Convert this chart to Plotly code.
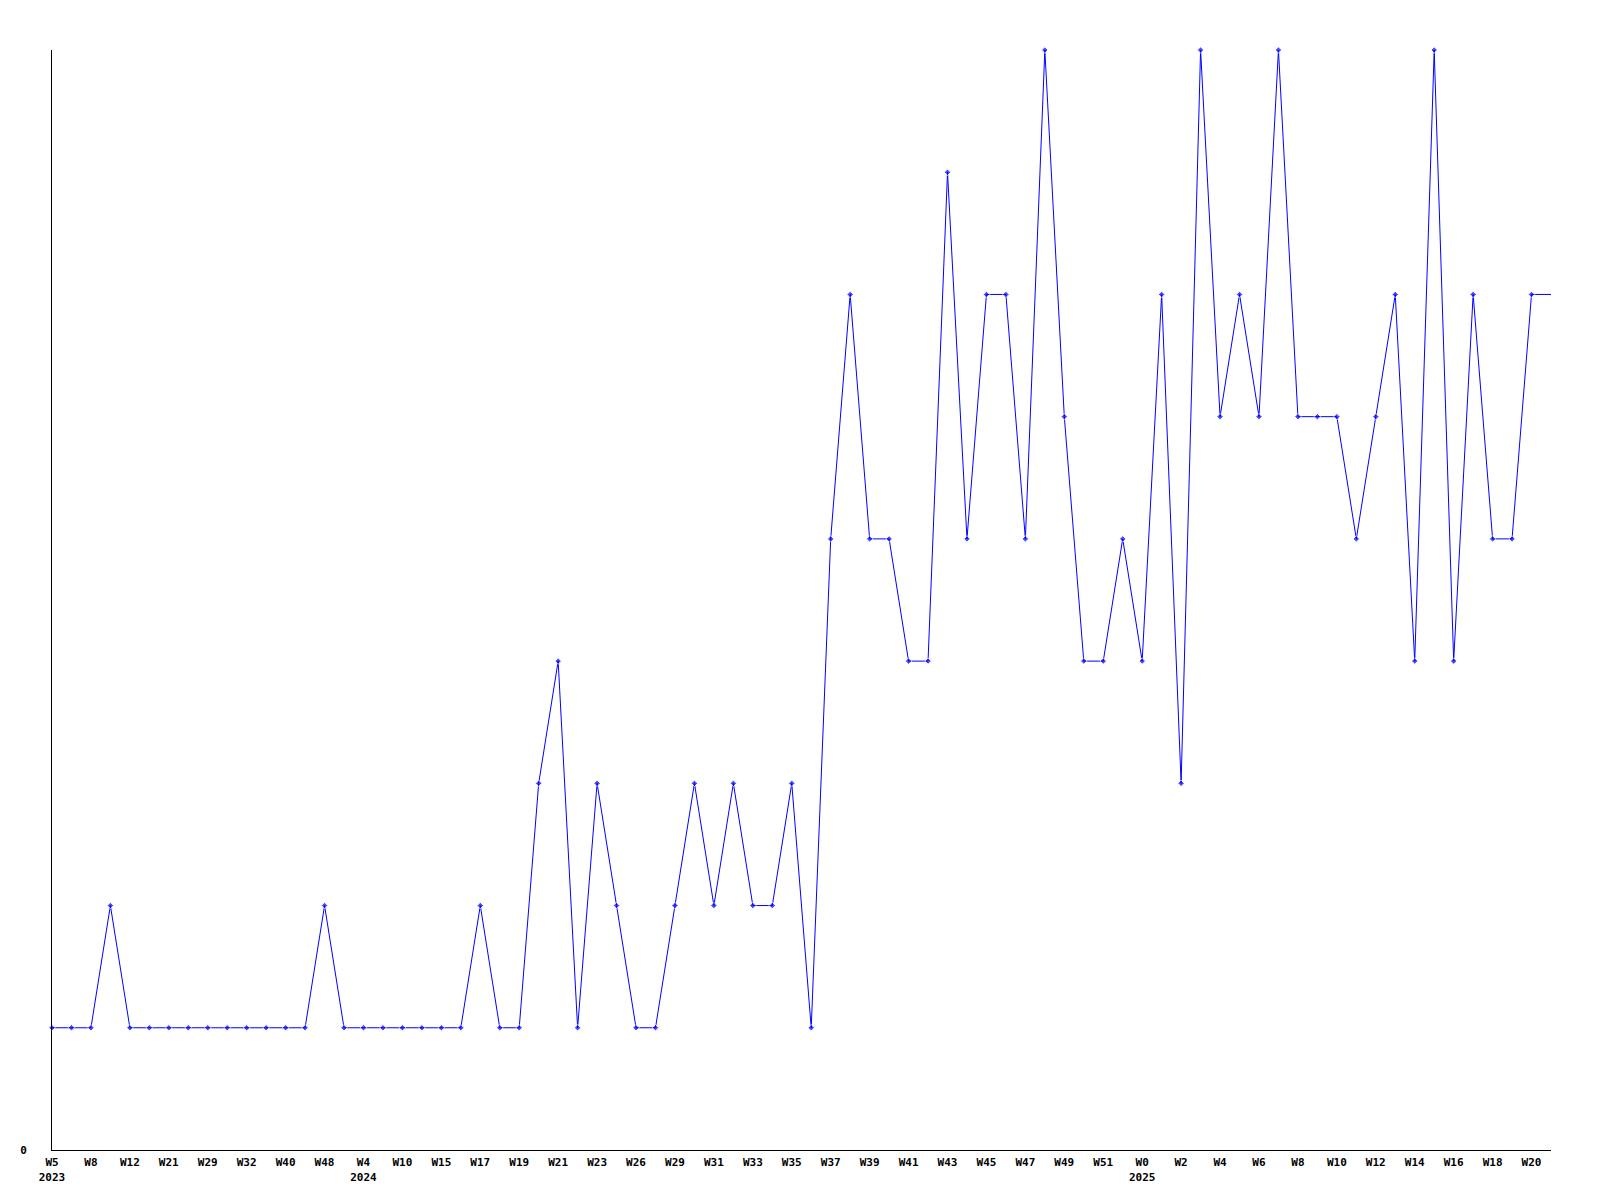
import plotly.graph_objects as go

# Week categories (year, week label); labels at every second point match the reference
years = [2023] * 16 + [2024] * 40 + [2025] * 22
weeks = ["W5", "W7", "W8", "W10", "W12", "W17", "W21", "W25", "W29", "W30",
         "W32", "W36", "W40", "W44", "W48", "W51",
         "W4", "W7", "W10", "W13", "W15", "W16", "W17", "W18", "W19", "W20",
         "W21", "W22", "W23", "W24", "W26", "W28", "W29", "W30", "W31", "W32",
         "W33", "W34", "W35", "W36", "W37", "W38", "W39", "W40", "W41", "W42",
         "W43", "W44", "W45", "W46", "W47", "W48", "W49", "W50", "W51", "W52",
         "W0", "W1", "W2", "W3", "W4", "W5", "W6", "W7", "W8", "W9", "W10",
         "W11", "W12", "W13", "W14", "W15", "W16", "W17", "W18", "W19", "W20",
         "W21"]
values = [1, 1, 1, 2, 1, 1, 1, 1, 1, 1,
          1, 1, 1, 1, 2, 1, 1, 1, 1, 1,
          1, 1, 2, 1, 1, 3, 4, 1, 3, 2,
          1, 1, 2, 3, 2, 3, 2, 2, 3, 1,
          5, 7, 5, 5, 4, 4, 8, 5, 7, 7,
          5, 9, 6, 4, 4, 5, 4, 7, 3, 9,
          6, 7, 6, 9, 6, 6, 6, 5, 6, 7,
          4, 9, 4, 7, 5, 5, 7, 7]

n = len(values)
xs = list(range(n))
marker_sizes = [5] * (n - 1) + [0]

tickvals = []
ticktext = []
seen_years = set()
for i in range(0, n - 1, 2):
    lab = weeks[i]
    if years[i] not in seen_years:
        seen_years.add(years[i])
        lab += "<br>" + str(years[i])
    tickvals.append(i)
    ticktext.append(lab)

fig = go.Figure()
fig.add_trace(go.Scatter(
    x=xs, y=values, mode="lines+markers",
    line=dict(color="#0000FF", width=1),
    marker=dict(symbol="diamond", size=marker_sizes, color="#0000FF"),
    text=[f"{y} {w}" for y, w in zip(years, weeks)],
    hoverinfo="text+y",
    cliponaxis=False,
))

font_family = "DejaVu Sans Mono"
fig.update_layout(
    width=1592, height=1192,
    margin=dict(l=42, r=49, t=42, b=50),
    plot_bgcolor="white", paper_bgcolor="white",
    showlegend=False,
    font=dict(family=font_family, size=11, color="black"),
)
fig.update_xaxes(
    range=[0, n - 1], tickmode="array", tickvals=tickvals, ticktext=ticktext,
    showgrid=False, zeroline=False, showline=True, linecolor="black", linewidth=1,
    ticks="", ticklabelstandoff=2,
    tickfont=dict(family=font_family, size=11, color="black", weight="bold"),
)
fig.update_yaxes(
    range=[0, 9], tickmode="array", tickvals=[0], ticktext=["0"],
    showgrid=False, zeroline=False, showline=True, linecolor="black", linewidth=1,
    ticks="", ticklabelstandoff=22,
    tickfont=dict(family=font_family, size=11, color="black", weight="bold"),
)

fig.write_html("out.html")
